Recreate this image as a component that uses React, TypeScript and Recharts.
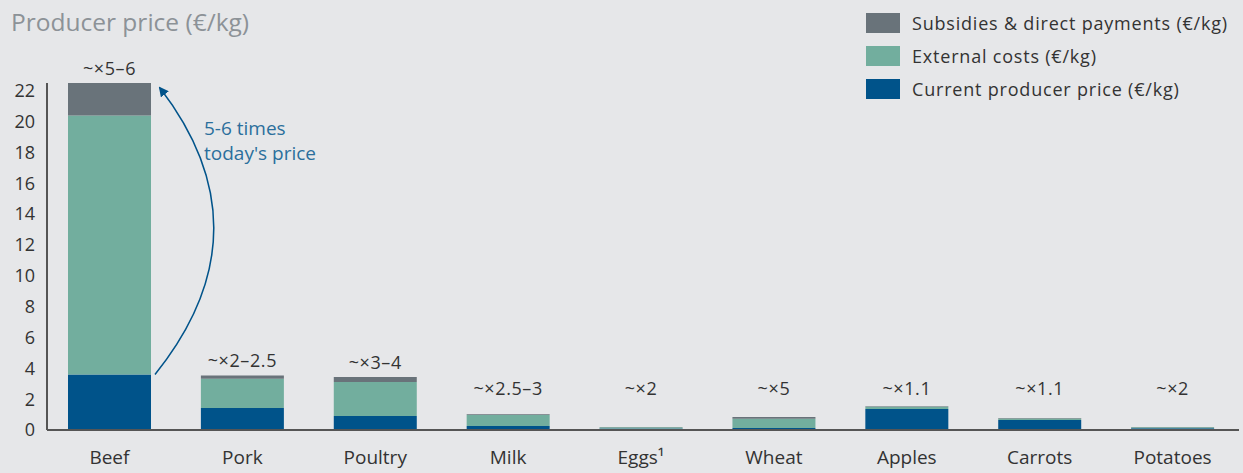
import React from 'react';
import { BarChart, Bar, XAxis, YAxis, LabelList } from 'recharts';

const categories = ['Beef', 'Pork', 'Poultry', 'Milk', 'Eggs¹', 'Wheat', 'Apples', 'Carrots', 'Potatoes'];
const currentPrice = [3.6, 1.42, 0.9, 0.26, 0.1, 0.13, 1.36, 0.65, 0.12];
const externalCosts = [16.8, 1.9, 2.22, 0.72, 0.08, 0.6, 0.15, 0.1, 0.06];
const subsidies = [2.1, 0.22, 0.32, 0.04, 0.02, 0.11, 0.03, 0.02, 0.02];
const multipliers = ['~×5–6', '~×2–2.5', '~×3–4', '~×2.5–3', '~×2', '~×5', '~×1.1', '~×1.1', '~×2'];
const yTicks = [0, 2, 4, 6, 8, 10, 12, 14, 16, 18, 20, 22];

const COLORS = {
  price: '#00538a',
  external: '#72ae9e',
  subsidies: '#69737a',
  bg: '#e6e7e9',
  text: '#333333',
  note: '#2b6f9c',
};

const FONT = '"Open Sans", "Noto Sans", sans-serif';

const data = categories.map((name, i) => ({
  name,
  price: currentPrice[i],
  external: externalCosts[i],
  subsidies: subsidies[i],
  mult: multipliers[i],
}));

const legendItems = [
  { label: 'Subsidies & direct payments (€/kg)', color: COLORS.subsidies },
  { label: 'External costs (€/kg)', color: COLORS.external },
  { label: 'Current producer price (€/kg)', color: COLORS.price },
];

// multiplier text above each stack, but never lower than a fixed line
const MultiplierLabel = (props: any) => {
  const { x, y, width, value } = props;
  const cy = Math.min(y - 15, 388);
  return (
    <text
      x={x + width / 2}
      y={cy}
      textAnchor="middle"
      dominantBaseline="central"
      fill={COLORS.text}
      fontSize={18}
      letterSpacing={0.6}
      fontFamily={FONT}
    >
      {value}
    </text>
  );
};

// curved arrow from beef's current price up to the top of the stack
const BeefArrow = (props: any) => {
  const { x, y, width, height, index } = props;
  if (index !== 0) return null;
  const ppu = height / currentPrice[0];
  const zeroY = y + height;
  const total = currentPrice[0] + externalCosts[0] + subsidies[0];
  const topY = zeroY - total * ppu;
  const right = x + width;
  const sx = right + 4;
  const ex = right + 9;
  const ey = topY + 5;
  const cx = right + 119;
  const cy = (y + ey) / 2;
  return (
    <g>
      <defs>
        <marker id="arrowHead" markerWidth="10" markerHeight="10" refX="8" refY="5" orient="auto" markerUnits="userSpaceOnUse">
          <path d="M0,0 L10,5 L0,10 Z" fill={COLORS.price} />
        </marker>
      </defs>
      <path
        d={`M${sx},${y} Q${cx},${cy} ${ex},${ey}`}
        fill="none"
        stroke={COLORS.price}
        strokeWidth={1.5}
        markerEnd="url(#arrowHead)"
      />
      <text x={right + 53} y={topY + 45} dominantBaseline="central" fill={COLORS.note} fontSize={19} fontFamily={FONT}>
        5-6 times
      </text>
      <text x={right + 53} y={topY + 70} dominantBaseline="central" fill={COLORS.note} fontSize={19} fontFamily={FONT}>
        today's price
      </text>
    </g>
  );
};

export default function App() {
  return (
    <div
      style={{
        position: 'absolute',
        left: 0,
        top: 0,
        width: 1243,
        height: 473,
        background: COLORS.bg,
        fontFamily: FONT,
        overflow: 'hidden',
      }}
    >
      <div style={{ position: 'absolute', left: 11, top: 5, fontSize: 24.5, color: '#8c9297' }}>
        Producer price (€/kg)
      </div>
      <div style={{ position: 'absolute', left: 866, top: 6 }}>
        {legendItems.map((item) => (
          <div key={item.label} style={{ display: 'flex', alignItems: 'center', height: 33 }}>
            <div style={{ width: 34, height: 20, background: item.color, marginRight: 12 }} />
            <span style={{ fontSize: 18, letterSpacing: 0.8, color: COLORS.text }}>{item.label}</span>
          </div>
        ))}
      </div>
      <BarChart
        width={1243}
        height={473}
        data={data}
        margin={{ top: 83, right: 4, left: 0, bottom: 13 }}
        barSize={83}
        style={{ position: 'absolute', left: 0, top: 0 }}
      >
        <XAxis
          dataKey="name"
          axisLine={{ stroke: '#555555', strokeWidth: 2 }}
          tickLine={false}
          tickMargin={15}
          interval={0}
          padding={{ left: -4, right: 0 }}
          tick={{ fontSize: 19, fill: COLORS.text, fontFamily: FONT }}
        />
        <YAxis
          width={47}
          domain={[0, 22.5]}
          ticks={yTicks}
          interval={0}
          axisLine={{ stroke: '#555555', strokeWidth: 2 }}
          tickLine={false}
          tickMargin={6}
          tick={{ fontSize: 18, fill: COLORS.text, fontFamily: FONT }}
        />
        <Bar dataKey="price" stackId="a" fill={COLORS.price} isAnimationActive={false}>
          <LabelList dataKey="price" content={BeefArrow} />
        </Bar>
        <Bar dataKey="external" stackId="a" fill={COLORS.external} isAnimationActive={false} />
        <Bar dataKey="subsidies" stackId="a" fill={COLORS.subsidies} isAnimationActive={false}>
          <LabelList dataKey="mult" content={MultiplierLabel} />
        </Bar>
      </BarChart>
    </div>
  );
}
